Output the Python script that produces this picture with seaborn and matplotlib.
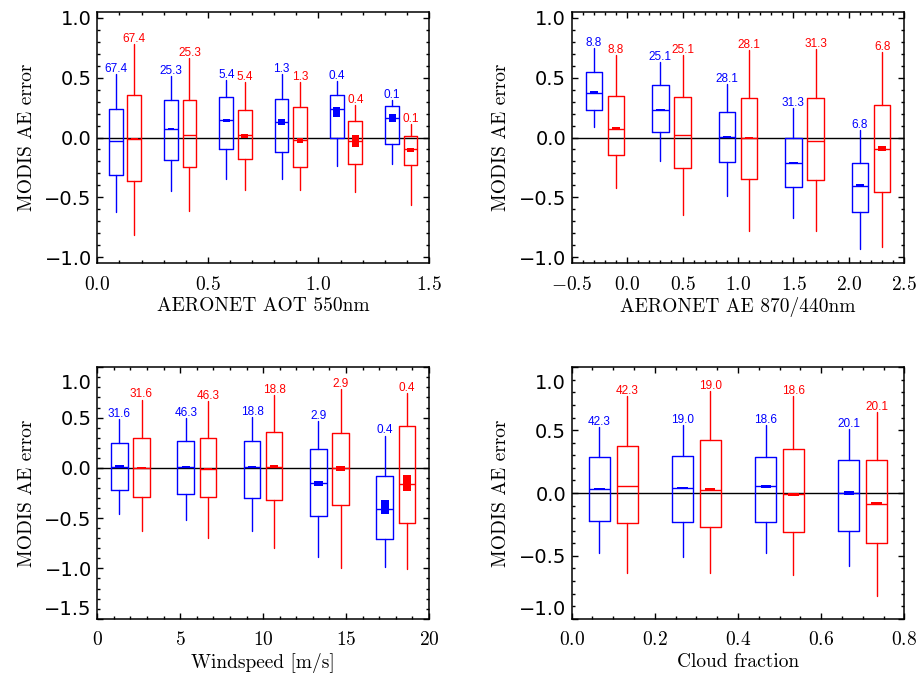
import matplotlib
matplotlib.use('Agg')
import matplotlib.pyplot as plt
import seaborn as sns
from matplotlib.ticker import MultipleLocator, FixedLocator, FixedFormatter
from matplotlib.transforms import ScaledTranslation

# ---------------- data ----------------
# Panel 1: AERONET AOT 550nm
aot_centers = [0.125, 0.375, 0.625, 0.875, 1.125, 1.375]
aot_labels = ['67.4', '25.3', '5.4', '1.3', '0.4', '0.1']
aot_b_whishi = [0.53, 0.51, 0.48, 0.53, 0.47, 0.31]
aot_b_q3 = [0.24, 0.315, 0.34, 0.32, 0.355, 0.265]
aot_b_med = [-0.033, 0.073, 0.145, 0.13, 0.234, 0.165]
aot_b_q1 = [-0.31, -0.19, -0.095, -0.12, -0.008, -0.053]
aot_b_whislo = [-0.62, -0.45, -0.35, -0.35, -0.24, -0.22]
aot_b_mlo = [-0.04, 0.066, 0.131, 0.106, 0.17, 0.128]
aot_b_mhi = [-0.028, 0.078, 0.156, 0.151, 0.251, 0.2]
aot_r_whishi = [0.78, 0.66, 0.46, 0.46, 0.27, 0.11]
aot_r_q3 = [0.357, 0.31, 0.232, 0.254, 0.139, 0.014]
aot_r_med = [-0.014, 0.017, 0.017, -0.02, -0.028, -0.1]
aot_r_q1 = [-0.36, -0.243, -0.181, -0.243, -0.22, -0.232]
aot_r_whislo = [-0.815, -0.614, -0.441, -0.441, -0.457, -0.563]
aot_r_mlo = [-0.02, 0.012, 0.0, -0.047, -0.081, -0.117]
aot_r_mhi = [-0.008, 0.024, 0.033, 0.0, 0.017, -0.084]

# Panel 2: AERONET AE 870/440nm
ae_centers = [-0.2, 0.4, 1.0, 1.6, 2.2]
ae_labels = ['8.8', '25.1', '28.1', '31.3', '6.8']
ae_b_whishi = [0.748, 0.63, 0.449, 0.243, 0.064]
ae_b_q3 = [0.55, 0.435, 0.212, -0.003, -0.212]
ae_b_med = [0.368, 0.229, 0.003, -0.209, -0.402]
ae_b_q1 = [0.229, 0.045, -0.206, -0.41, -0.625]
ae_b_whislo = [0.086, -0.192, -0.485, -0.672, -0.932]
ae_b_mlo = [0.362, 0.223, -0.002, -0.215, -0.416]
ae_b_mhi = [0.385, 0.235, 0.01, -0.203, -0.385]
ae_r_whishi = [0.686, 0.692, 0.728, 0.742, 0.714]
ae_r_q3 = [0.349, 0.34, 0.332, 0.326, 0.271]
ae_r_med = [0.075, 0.02, -0.006, -0.033, -0.098]
ae_r_q1 = [-0.142, -0.254, -0.346, -0.354, -0.452]
ae_r_whislo = [-0.424, -0.647, -0.784, -0.778, -0.915]
ae_r_mlo = [0.064, 0.014, -0.011, -0.039, -0.114]
ae_r_mhi = [0.084, 0.025, 0.0, -0.027, -0.075]

# Panel 3: Windspeed [m/s]
ws_centers = [2, 6, 10, 14, 18]
ws_labels = ['31.6', '46.3', '18.8', '2.9', '0.4']
ws_b_whishi = [0.483, 0.497, 0.507, 0.464, 0.321]
ws_b_q3 = [0.248, 0.272, 0.265, 0.192, -0.076]
ws_b_med = [0.013, 0.007, 0.01, -0.149, -0.41]
ws_b_q1 = [-0.222, -0.258, -0.301, -0.474, -0.705]
ws_b_whislo = [-0.454, -0.52, -0.623, -0.887, -0.983]
ws_b_mlo = [0.01, 0.005, 0.005, -0.179, -0.457]
ws_b_mhi = [0.025, 0.018, 0.018, -0.132, -0.32]
ws_r_whishi = [0.679, 0.662, 0.722, 0.788, 0.745]
ws_r_q3 = [0.301, 0.301, 0.358, 0.348, 0.421]
ws_r_med = [0.0, -0.01, 0.013, -0.003, -0.156]
ws_r_q1 = [-0.291, -0.288, -0.315, -0.368, -0.553]
ws_r_whislo = [-0.626, -0.699, -0.798, -1.0, -1.003]
ws_r_mlo = [-0.005, -0.016, 0.0, -0.03, -0.228]
ws_r_mhi = [0.007, -0.004, 0.026, 0.02, -0.073]

# Panel 4: Cloud fraction
cf_centers = [0.1, 0.3, 0.5, 0.7]
cf_labels = ['42.3', '19.0', '18.6', '20.1']
cf_b_whishi = [0.528, 0.539, 0.539, 0.507]
cf_b_q3 = [0.285, 0.293, 0.283, 0.264]
cf_b_med = [0.035, 0.04, 0.053, 0.0]
cf_b_q1 = [-0.221, -0.229, -0.227, -0.299]
cf_b_whislo = [-0.48, -0.512, -0.48, -0.579]
cf_b_mlo = [0.029, 0.03, 0.04, -0.012]
cf_b_mhi = [0.041, 0.05, 0.067, 0.012]
cf_r_whishi = [0.773, 0.813, 0.773, 0.645]
cf_r_q3 = [0.371, 0.419, 0.352, 0.259]
cf_r_med = [0.053, 0.021, -0.008, -0.088]
cf_r_q1 = [-0.237, -0.267, -0.309, -0.4]
cf_r_whislo = [-0.64, -0.637, -0.656, -0.821]
cf_r_mlo = [0.047, 0.013, -0.027, -0.099]
cf_r_mhi = [0.059, 0.043, 0.0, -0.069]

# ---------------- style ----------------
sns.set_theme(style='ticks')
plt.rcParams['font.family'] = ['Liberation Sans', 'DejaVu Sans']
plt.rcParams['mathtext.fontset'] = 'cm'
plt.rcParams['axes.edgecolor'] = 'black'
plt.rcParams['axes.linewidth'] = 1.1

BLUE = '#0000ff'
RED = '#ff0000'
SERIF = 'cmr10'

W, H = 923, 674
fig = plt.figure(figsize=(W / 100, H / 100), dpi=100)


def add_ax(left, top, right, bottom):
    return fig.add_axes([left / W, 1 - bottom / H, (right - left) / W, (bottom - top) / H])


def stats_list(whislo, q1, med, q3, whishi):
    return [dict(whislo=a, q1=b, med=c, q3=d, whishi=e, fliers=[])
            for a, b, c, d, e in zip(whislo, q1, med, q3, whishi)]


def draw_series(ax, pos, bw, st, mlo, mhi, labels, color):
    props = dict(color=color, linewidth=1.0)
    ax.bxp(st, positions=pos, widths=bw / 4, showcaps=False, showfliers=False,
           boxprops=props, whiskerprops=props, medianprops=props,
           manage_ticks=False)
    heights = [h - l for l, h in zip(mlo, mhi)]
    ax.bar(pos, heights, bottom=mlo, width=bw / 8, color=color,
           edgecolor=color, linewidth=0, zorder=3)
    for p, s, lab in zip(pos, st, labels):
        ax.annotate(lab, (p, s['whishi']), xytext=(0, 1.5), textcoords='offset points',
                    ha='center', va='baseline', fontsize=8.5, color=color)


def panel(ax, centers, bw, blue, red, labels, xlim, xmajor, xlabels, xminor,
          ylim, ymajor, ylabels, xlabel):
    pos_b = [c - bw / 6 for c in centers]
    pos_r = [c + bw / 6 for c in centers]
    draw_series(ax, pos_b, bw, stats_list(*blue[:5]), blue[5], blue[6], labels, BLUE)
    draw_series(ax, pos_r, bw, stats_list(*red[:5]), red[5], red[6], labels, RED)
    ax.axhline(0, color='black', linewidth=1.0, zorder=1)
    ax.set_xlim(*xlim)
    ax.set_ylim(*ylim)
    ax.xaxis.set_major_locator(FixedLocator(xmajor))
    ax.xaxis.set_major_formatter(FixedFormatter(xlabels))
    ax.xaxis.set_minor_locator(MultipleLocator(xminor))
    ax.yaxis.set_major_locator(FixedLocator(ymajor))
    ax.yaxis.set_major_formatter(FixedFormatter(ylabels))
    ax.yaxis.set_minor_locator(MultipleLocator(0.1))
    ax.tick_params(which='both', direction='in', top=True, right=True,
                   color='black', width=1.0)
    ax.tick_params(which='major', length=4.5)
    ax.tick_params(which='minor', length=2.2)
    ax.tick_params(axis='x', labelsize=14, pad=9, labelcolor='black')
    ax.tick_params(axis='y', labelsize=14, pad=4, labelcolor='black')
    for lab in ax.get_yticklabels():
        lab.set_family('DejaVu Sans')
    ax.set_xlabel(xlabel, fontsize=14, family=SERIF, labelpad=2.5, color='black')
    ax.set_ylabel('MODIS AE error', fontsize=14, family=SERIF, labelpad=6, color='black')
    for sp in ax.spines.values():
        sp.set_color('black')


def mt(vals):
    return [r'$%s$' % v for v in vals]


ax1 = add_ax(97.3, 11.7, 429, 263.3)
ax2 = add_ax(571.7, 11.7, 904.3, 263.3)
ax3 = add_ax(97.3, 367.3, 429, 618.7)
ax4 = add_ax(571.7, 367.3, 904.3, 618.7)

y_top_ticks = [-1.0, -0.5, 0.0, 0.5, 1.0]
y_top_labels = ['\u22121.0', '\u22120.5', '0.0', '0.5', '1.0']
y_ws_ticks = [-1.5, -1.0, -0.5, 0.0, 0.5, 1.0]
y_ws_labels = ['\u22121.5', '\u22121.0', '\u22120.5', '0.0', '0.5', '1.0']

panel(ax1, aot_centers, 0.25,
      (aot_b_whislo, aot_b_q1, aot_b_med, aot_b_q3, aot_b_whishi, aot_b_mlo, aot_b_mhi),
      (aot_r_whislo, aot_r_q1, aot_r_med, aot_r_q3, aot_r_whishi, aot_r_mlo, aot_r_mhi),
      aot_labels, (0, 1.5), [0, 0.5, 1.0, 1.5], mt(['0.0', '0.5', '1.0', '1.5']), 0.1,
      (-1.05, 1.05), y_top_ticks, y_top_labels, 'AERONET AOT 550nm')

panel(ax2, ae_centers, 0.6,
      (ae_b_whislo, ae_b_q1, ae_b_med, ae_b_q3, ae_b_whishi, ae_b_mlo, ae_b_mhi),
      (ae_r_whislo, ae_r_q1, ae_r_med, ae_r_q3, ae_r_whishi, ae_r_mlo, ae_r_mhi),
      ae_labels, (-0.5, 2.5), [-0.5, 0, 0.5, 1.0, 1.5, 2.0, 2.5],
      mt(['-0.5', '0.0', '0.5', '1.0', '1.5', '2.0', '2.5']), 0.1,
      (-1.05, 1.05), y_top_ticks, y_top_labels, 'AERONET AE 870/440nm')

panel(ax3, ws_centers, 4.0,
      (ws_b_whislo, ws_b_q1, ws_b_med, ws_b_q3, ws_b_whishi, ws_b_mlo, ws_b_mhi),
      (ws_r_whislo, ws_r_q1, ws_r_med, ws_r_q3, ws_r_whishi, ws_r_mlo, ws_r_mhi),
      ws_labels, (0, 20), [0, 5, 10, 15, 20], mt(['0', '5', '10', '15', '20']), 1,
      (-1.5, 1.0), y_ws_ticks, y_ws_labels, 'Windspeed [m/s]')

panel(ax4, cf_centers, 0.2,
      (cf_b_whislo, cf_b_q1, cf_b_med, cf_b_q3, cf_b_whishi, cf_b_mlo, cf_b_mhi),
      (cf_r_whislo, cf_r_q1, cf_r_med, cf_r_q3, cf_r_whishi, cf_r_mlo, cf_r_mhi),
      cf_labels, (0, 0.8), [0, 0.2, 0.4, 0.6, 0.8], mt(['0.0', '0.2', '0.4', '0.6', '0.8']), 0.05,
      (-1.0, 1.0), y_top_ticks, y_top_labels, 'Cloud fraction')

# the extreme y tick labels of the lower panels sit inside the frame
for ax in (ax3, ax4):
    labs = ax.yaxis.get_majorticklabels()
    labs[-1].set_transform(labs[-1].get_transform() + ScaledTranslation(0, -0.14, fig.dpi_scale_trans))
    labs[0].set_transform(labs[0].get_transform() + ScaledTranslation(0, 0.11, fig.dpi_scale_trans))

fig.savefig('out.png', dpi=100)
